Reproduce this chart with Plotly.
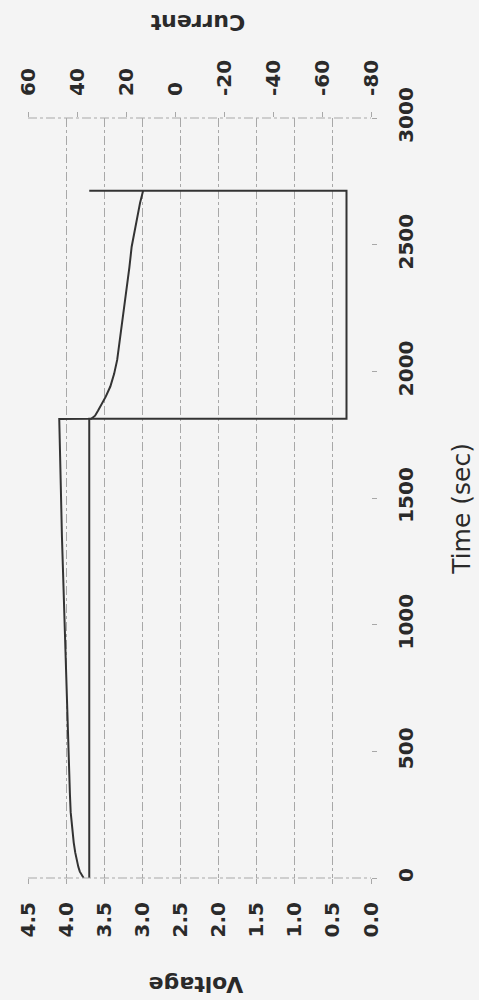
import plotly.graph_objects as go

# ---- data ----
volt_time = [0, 10, 25, 44, 70, 100, 140, 200, 260, 330, 420, 520, 640, 780, 950,
             1150, 1350, 1550, 1700, 1812, 1813, 1825, 1845, 1870, 1900, 1940, 1990,
             2045, 2110, 2177, 2250, 2334, 2410, 2492, 2550, 2610, 2665, 2713]
voltage = [3.77, 3.79, 3.82, 3.84, 3.86, 3.88, 3.90, 3.925, 3.94, 3.95, 3.96, 3.97, 3.98, 3.995, 4.01,
           4.035, 4.055, 4.07, 4.08, 4.09, 3.67, 3.62, 3.58, 3.53, 3.48, 3.42, 3.37,
           3.33, 3.30, 3.27, 3.235, 3.20, 3.17, 3.14, 3.105, 3.07, 3.03, 2.99]

curr_time = [0, 1813, 1813, 2713, 2713]
current = [35, 35, -70, -70, 35]

time_ticks = [0, 500, 1000, 1500, 2000, 2500, 3000]
volt_ticks = [4.5, 4.0, 3.5, 3.0, 2.5, 2.0, 1.5, 1.0, 0.5, 0.0]
curr_ticks = [60, 40, 20, 0, -20, -40, -60, -80]
curr_labels = [str(v) for v in curr_ticks]   # plain hyphen minus as in the reference

LINE = "#333333"
TXT = "#2a2a2a"
GRID = "#a8a8a8"
BG = "#f4f4f4"
FONT = "DejaVu Sans"

fig = go.Figure()
fig.add_trace(go.Scatter(x=voltage, y=volt_time, mode="lines", xaxis="x", yaxis="y",
                         line=dict(color=LINE, width=2), showlegend=False))
fig.add_trace(go.Scatter(x=current, y=curr_time, mode="lines", xaxis="x2", yaxis="y",
                         line=dict(color=LINE, width=2), showlegend=False))

L, R, T, B = 28, 108, 118, 122
W, H = 479, 1000

tick_font = dict(family=FONT, size=20, color=TXT, weight="bold")

fig.update_layout(
    width=W, height=H,
    margin=dict(l=L, r=R, t=T, b=B),
    paper_bgcolor=BG, plot_bgcolor=BG,
    font=dict(family=FONT, color=TXT),
    xaxis=dict(range=[4.5, 0], tickvals=volt_ticks, tickformat=".1f", tickangle=-90,
               showgrid=True, gridcolor=GRID, griddash="dashdot", gridwidth=1,
               zeroline=False, showline=False, ticks="outside", ticklen=5, tickcolor=GRID,
               tickfont=tick_font, ticklabelstandoff=10),
    xaxis2=dict(range=[60, -80], tickvals=curr_ticks, ticktext=curr_labels, overlaying="x",
                side="top", tickangle=-90,
                showgrid=False, zeroline=False, showline=False, ticks="outside", ticklen=5,
                tickcolor=GRID, tickfont=tick_font, ticklabelstandoff=12),
    yaxis=dict(range=[0, 3000], tickvals=time_ticks, side="right", tickangle=-90,
               showgrid=False, zeroline=False, showline=False, ticks="outside", ticklen=5,
               tickcolor=GRID, tickfont=tick_font, ticklabelstandoff=12),
    shapes=[
        dict(type="line", xref="paper", yref="paper", x0=0, x1=1, y0=0, y1=0,
             line=dict(color=GRID, width=1, dash="dashdot")),
        dict(type="line", xref="paper", yref="paper", x0=0, x1=1, y0=1, y1=1,
             line=dict(color=GRID, width=1, dash="dashdot")),
    ],
    annotations=[
        dict(text="Voltage", xref="paper", yref="paper", x=0.49, y=-0.159, showarrow=False,
             textangle=180, font=dict(family=FONT, size=22, color=TXT, weight="bold")),
        dict(text="Current", xref="paper", yref="paper", x=0.496, y=1.144, showarrow=False,
             textangle=180, font=dict(family=FONT, size=22, color=TXT, weight="bold")),
        dict(text="Time (sec)", xref="paper", yref="paper", x=1.31, y=0.4855, showarrow=False,
             textangle=-90, font=dict(family=FONT, size=25, color=TXT)),
    ],
)

fig.write_html("out.html")
